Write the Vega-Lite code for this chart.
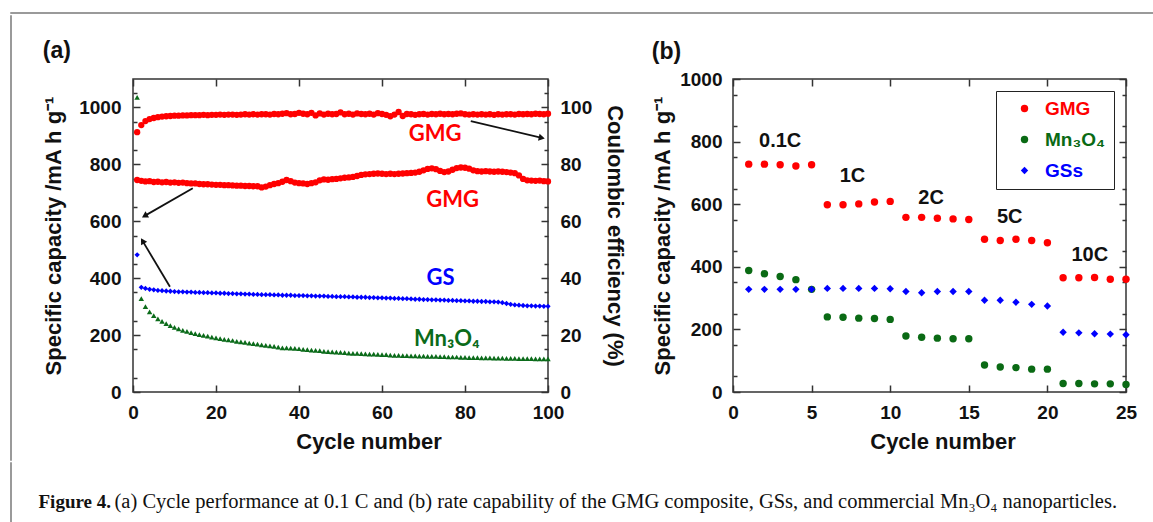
{
  "$schema": "https://vega.github.io/schema/vega-lite/v6.json",
  "padding": {"left": 9, "top": 11, "right": 0, "bottom": 0},
  "background": "white",
  "config": {
    "view": {"stroke": null},
    "font": "Liberation Sans",
    "axis": {"grid": false, "domain": false, "labelFont": "Liberation Sans", "labelFontWeight": "bold", "labelFontSize": 19, "labelColor": "#111", "titleFont": "Liberation Sans", "titleFontWeight": "bold", "titleFontSize": 22, "titleColor": "#111", "tickColor": "#333", "tickWidth": 1.5, "format": "d"},
    "concat": {"spacing": 0}
  },
  "datasets": {
    "blank": [],
    "cycA": [
      {"c":1,"ce":91.3,"gmg":745,"gs":482,"mn":1035},
      {"c":2,"ce":93.8,"gmg":742,"gs":368,"mn":328},
      {"c":3,"ce":95.2,"gmg":740,"gs":364,"mn":300},
      {"c":4,"ce":95.9,"gmg":741,"gs":361,"mn":282},
      {"c":5,"ce":96.3,"gmg":738,"gs":359,"mn":268},
      {"c":6,"ce":96.6,"gmg":739,"gs":357,"mn":257},
      {"c":7,"ce":96.8,"gmg":737,"gs":356,"mn":248},
      {"c":8,"ce":96.9,"gmg":738,"gs":355,"mn":240},
      {"c":9,"ce":97.0,"gmg":736,"gs":354,"mn":233},
      {"c":10,"ce":97.1,"gmg":737,"gs":353,"mn":227},
      {"c":11,"ce":97.1,"gmg":735,"gs":352,"mn":222},
      {"c":12,"ce":97.2,"gmg":736,"gs":352,"mn":217},
      {"c":13,"ce":97.2,"gmg":734,"gs":351,"mn":213},
      {"c":14,"ce":97.3,"gmg":733,"gs":351,"mn":209},
      {"c":15,"ce":97.3,"gmg":733,"gs":350,"mn":205},
      {"c":16,"ce":97.3,"gmg":731,"gs":350,"mn":202},
      {"c":17,"ce":97.4,"gmg":730,"gs":349,"mn":199},
      {"c":18,"ce":97.3,"gmg":730,"gs":349,"mn":196},
      {"c":19,"ce":97.4,"gmg":729,"gs":348,"mn":193},
      {"c":20,"ce":97.4,"gmg":728,"gs":348,"mn":190},
      {"c":21,"ce":97.5,"gmg":728,"gs":347,"mn":188},
      {"c":22,"ce":97.4,"gmg":727,"gs":347,"mn":185},
      {"c":23,"ce":97.5,"gmg":727,"gs":346,"mn":183},
      {"c":24,"ce":97.5,"gmg":726,"gs":346,"mn":181},
      {"c":25,"ce":97.4,"gmg":725,"gs":345,"mn":178},
      {"c":26,"ce":97.5,"gmg":725,"gs":345,"mn":176},
      {"c":27,"ce":97.6,"gmg":724,"gs":344,"mn":174},
      {"c":28,"ce":97.5,"gmg":724,"gs":344,"mn":172},
      {"c":29,"ce":97.6,"gmg":723,"gs":343,"mn":170},
      {"c":30,"ce":97.5,"gmg":723,"gs":343,"mn":168},
      {"c":31,"ce":97.6,"gmg":719,"gs":342,"mn":166},
      {"c":32,"ce":97.6,"gmg":722,"gs":342,"mn":164},
      {"c":33,"ce":97.5,"gmg":727,"gs":342,"mn":162},
      {"c":34,"ce":97.7,"gmg":731,"gs":341,"mn":160},
      {"c":35,"ce":97.6,"gmg":734,"gs":341,"mn":158},
      {"c":36,"ce":97.8,"gmg":739,"gs":340,"mn":155},
      {"c":37,"ce":98.0,"gmg":745,"gs":340,"mn":155},
      {"c":38,"ce":97.6,"gmg":741,"gs":340,"mn":154},
      {"c":39,"ce":97.7,"gmg":736,"gs":339,"mn":153},
      {"c":40,"ce":98.1,"gmg":734,"gs":339,"mn":152},
      {"c":41,"ce":97.8,"gmg":733,"gs":339,"mn":150},
      {"c":42,"ce":97.6,"gmg":731,"gs":338,"mn":149},
      {"c":43,"ce":98.1,"gmg":734,"gs":338,"mn":147},
      {"c":44,"ce":97.2,"gmg":737,"gs":337,"mn":146},
      {"c":45,"ce":97.9,"gmg":744,"gs":337,"mn":145},
      {"c":46,"ce":97.5,"gmg":747,"gs":337,"mn":143},
      {"c":47,"ce":97.8,"gmg":746,"gs":336,"mn":142},
      {"c":48,"ce":97.6,"gmg":748,"gs":336,"mn":141},
      {"c":49,"ce":97.7,"gmg":749,"gs":335,"mn":140},
      {"c":50,"ce":98.3,"gmg":751,"gs":335,"mn":139},
      {"c":51,"ce":97.6,"gmg":753,"gs":335,"mn":138},
      {"c":52,"ce":97.8,"gmg":754,"gs":334,"mn":137},
      {"c":53,"ce":97.5,"gmg":756,"gs":334,"mn":136},
      {"c":54,"ce":97.9,"gmg":759,"gs":333,"mn":136},
      {"c":55,"ce":97.7,"gmg":763,"gs":333,"mn":135},
      {"c":56,"ce":97.6,"gmg":765,"gs":333,"mn":134},
      {"c":57,"ce":97.8,"gmg":766,"gs":332,"mn":133},
      {"c":58,"ce":97.5,"gmg":767,"gs":332,"mn":133},
      {"c":59,"ce":98.0,"gmg":768,"gs":331,"mn":132},
      {"c":60,"ce":97.7,"gmg":767,"gs":331,"mn":131},
      {"c":61,"ce":97.4,"gmg":766,"gs":330,"mn":131},
      {"c":62,"ce":96.9,"gmg":767,"gs":330,"mn":130},
      {"c":63,"ce":97.5,"gmg":766,"gs":329,"mn":129},
      {"c":64,"ce":98.4,"gmg":767,"gs":329,"mn":129},
      {"c":65,"ce":97.0,"gmg":768,"gs":328,"mn":128},
      {"c":66,"ce":97.7,"gmg":769,"gs":328,"mn":128},
      {"c":67,"ce":97.6,"gmg":770,"gs":327,"mn":127},
      {"c":68,"ce":97.4,"gmg":771,"gs":326,"mn":127},
      {"c":69,"ce":97.6,"gmg":774,"gs":326,"mn":126},
      {"c":70,"ce":97.7,"gmg":779,"gs":325,"mn":126},
      {"c":71,"ce":97.5,"gmg":784,"gs":325,"mn":125},
      {"c":72,"ce":97.7,"gmg":786,"gs":324,"mn":125},
      {"c":73,"ce":97.6,"gmg":783,"gs":324,"mn":125},
      {"c":74,"ce":97.8,"gmg":777,"gs":323,"mn":124},
      {"c":75,"ce":97.6,"gmg":773,"gs":323,"mn":124},
      {"c":76,"ce":97.7,"gmg":775,"gs":322,"mn":123},
      {"c":77,"ce":97.6,"gmg":781,"gs":322,"mn":123},
      {"c":78,"ce":97.8,"gmg":787,"gs":321,"mn":123},
      {"c":79,"ce":97.9,"gmg":789,"gs":321,"mn":122},
      {"c":80,"ce":97.6,"gmg":788,"gs":320,"mn":122},
      {"c":81,"ce":97.5,"gmg":785,"gs":320,"mn":121},
      {"c":82,"ce":97.6,"gmg":779,"gs":319,"mn":121},
      {"c":83,"ce":97.5,"gmg":776,"gs":319,"mn":121},
      {"c":84,"ce":97.6,"gmg":775,"gs":318,"mn":120},
      {"c":85,"ce":97.5,"gmg":776,"gs":318,"mn":120},
      {"c":86,"ce":97.6,"gmg":775,"gs":317,"mn":120},
      {"c":87,"ce":97.4,"gmg":774,"gs":317,"mn":119},
      {"c":88,"ce":97.6,"gmg":775,"gs":316,"mn":119},
      {"c":89,"ce":97.5,"gmg":774,"gs":314,"mn":119},
      {"c":90,"ce":97.6,"gmg":773,"gs":311,"mn":118},
      {"c":91,"ce":97.6,"gmg":771,"gs":308,"mn":118},
      {"c":92,"ce":97.5,"gmg":769,"gs":306,"mn":118},
      {"c":93,"ce":97.7,"gmg":761,"gs":305,"mn":117},
      {"c":94,"ce":97.6,"gmg":749,"gs":304,"mn":117},
      {"c":95,"ce":97.7,"gmg":744,"gs":303,"mn":117},
      {"c":96,"ce":97.6,"gmg":743,"gs":303,"mn":117},
      {"c":97,"ce":97.8,"gmg":742,"gs":302,"mn":116},
      {"c":98,"ce":97.7,"gmg":743,"gs":302,"mn":116},
      {"c":99,"ce":97.6,"gmg":741,"gs":301,"mn":116},
      {"c":100,"ce":97.8,"gmg":740,"gs":301,"mn":116}
    ],
    "arrowsA": [
      {"id":1,"x":81.4,"y":952,"x2":98.5,"y2":893},
      {"id":2,"x":14.4,"y":716,"x2":2.8,"y2":619},
      {"id":3,"x":8.9,"y":370,"x2":2.3,"y2":531}
    ],
    "annA": [
      {"x":72.8,"y":908,"label":"GMG","s":"GMG"},
      {"x":77.0,"y":675,"label":"GMG","s":"GMG"},
      {"x":74.1,"y":400,"label":"GS","s":"GS"},
      {"x":75.6,"y":186,"label":"Mn₃O₄","s":"Mn"}
    ],
    "rateB": [
      {"c":1,"series":"GMG","v":728},{"c":2,"series":"GMG","v":728},{"c":3,"series":"GMG","v":726},{"c":4,"series":"GMG","v":722},{"c":5,"series":"GMG","v":726},
      {"c":6,"series":"GMG","v":598},{"c":7,"series":"GMG","v":598},{"c":8,"series":"GMG","v":601},{"c":9,"series":"GMG","v":607},{"c":10,"series":"GMG","v":609},
      {"c":11,"series":"GMG","v":558},{"c":12,"series":"GMG","v":558},{"c":13,"series":"GMG","v":555},{"c":14,"series":"GMG","v":553},{"c":15,"series":"GMG","v":551},
      {"c":16,"series":"GMG","v":488},{"c":17,"series":"GMG","v":484},{"c":18,"series":"GMG","v":488},{"c":19,"series":"GMG","v":484},{"c":20,"series":"GMG","v":477},
      {"c":21,"series":"GMG","v":365},{"c":22,"series":"GMG","v":365},{"c":23,"series":"GMG","v":366},{"c":24,"series":"GMG","v":360},{"c":25,"series":"GMG","v":360},
      {"c":1,"series":"Mn₃O₄","v":388},{"c":2,"series":"Mn₃O₄","v":378},{"c":3,"series":"Mn₃O₄","v":369},{"c":4,"series":"Mn₃O₄","v":359},{"c":5,"series":"Mn₃O₄","v":328},
      {"c":6,"series":"Mn₃O₄","v":240},{"c":7,"series":"Mn₃O₄","v":239},{"c":8,"series":"Mn₃O₄","v":236},{"c":9,"series":"Mn₃O₄","v":235},{"c":10,"series":"Mn₃O₄","v":232},
      {"c":11,"series":"Mn₃O₄","v":179},{"c":12,"series":"Mn₃O₄","v":175},{"c":13,"series":"Mn₃O₄","v":172},{"c":14,"series":"Mn₃O₄","v":170},{"c":15,"series":"Mn₃O₄","v":170},
      {"c":16,"series":"Mn₃O₄","v":86},{"c":17,"series":"Mn₃O₄","v":80},{"c":18,"series":"Mn₃O₄","v":78},{"c":19,"series":"Mn₃O₄","v":73},{"c":20,"series":"Mn₃O₄","v":73},
      {"c":21,"series":"Mn₃O₄","v":27},{"c":22,"series":"Mn₃O₄","v":27},{"c":23,"series":"Mn₃O₄","v":26},{"c":24,"series":"Mn₃O₄","v":26},{"c":25,"series":"Mn₃O₄","v":24},
      {"c":1,"series":"GSs","v":328},{"c":2,"series":"GSs","v":328},{"c":3,"series":"GSs","v":328},{"c":4,"series":"GSs","v":328},{"c":5,"series":"GSs","v":328},
      {"c":6,"series":"GSs","v":331},{"c":7,"series":"GSs","v":331},{"c":8,"series":"GSs","v":331},{"c":9,"series":"GSs","v":331},{"c":10,"series":"GSs","v":330},
      {"c":11,"series":"GSs","v":321},{"c":12,"series":"GSs","v":317},{"c":13,"series":"GSs","v":321},{"c":14,"series":"GSs","v":321},{"c":15,"series":"GSs","v":321},
      {"c":16,"series":"GSs","v":293},{"c":17,"series":"GSs","v":293},{"c":18,"series":"GSs","v":287},{"c":19,"series":"GSs","v":280},{"c":20,"series":"GSs","v":275},
      {"c":21,"series":"GSs","v":191},{"c":22,"series":"GSs","v":189},{"c":23,"series":"GSs","v":186},{"c":24,"series":"GSs","v":185},{"c":25,"series":"GSs","v":183}
    ],
    "annB": [
      {"x":3.0,"y":802,"label":"0.1C"},
      {"x":7.6,"y":690,"label":"1C"},
      {"x":12.6,"y":621,"label":"2C"},
      {"x":17.6,"y":558,"label":"5C"},
      {"x":22.7,"y":439,"label":"10C"}
    ],
    "capBold": [{"t": "Figure 4."}],
    "capNorm": [{"t": "(a) Cycle performance at 0.1 C and (b) rate capability of the GMG composite, GSs, and commercial Mn₃O₄ nanoparticles."}]
  },
  "spacing": 0,
  "vconcat": [
    {"width": 1144, "height": 1, "view": {"stroke": "#9a9a9a", "strokeWidth": 1}, "data": {"name": "blank"}, "mark": {"type": "text"}, "encoding": {"text": {"field": "t"}}},
    {
      "spacing": 29,
      "hconcat": [
        {"width": 1, "height": 445, "view": {"stroke": "#9a9a9a", "strokeWidth": 1}, "data": {"name": "blank"}, "mark": {"type": "text"}, "encoding": {"text": {"field": "t"}}},
        {
          "spacing": 23,
          "vconcat": [
            {"width": 1, "height": 1, "data": {"name": "blank"}, "mark": {"type": "text"}, "encoding": {"text": {"field": "t"}}},
            {
              "spacing": 23,
              "resolve": {"legend": {"color": "independent", "shape": "independent"}},
              "hconcat": [
                {
                  "width": 415, "height": 313,
                  "view": {"stroke": "#333", "strokeWidth": 1.5},
                  "title": {"text": "(a)", "anchor": "start", "frame": "bounds", "font": "Liberation Sans", "fontSize": 23, "fontWeight": "bold", "color": "#111", "baseline": "alphabetic", "offset": -3},
                  "resolve": {"scale": {"y": "independent"}, "axis": {"x": "independent", "y": "independent"}},
                  "layer": [
                    {
                      "data": {"name": "cycA"},
                      "mark": {"type": "point", "filled": true, "shape": "circle", "size": 40, "color": "#ff0000", "opacity": 1},
                      "encoding": {
                        "x": {"field": "c", "type": "quantitative", "scale": {"domain": [0, 100], "nice": false, "zero": false}, "axis": {"orient": "bottom", "values": [0, 20, 40, 60, 80, 100], "ticks": false, "labelPadding": 11, "labelFlush": false, "title": "Cycle number", "titlePadding": 9, "titleX": 235.5}},
                        "y": {"field": "ce", "type": "quantitative", "scale": {"domain": [0, 110], "nice": false}, "axis": {"orient": "right", "values": [0, 20, 40, 60, 80, 100], "ticks": false, "labelPadding": 12, "labelFlush": false, "title": "Coulombic efficiency (%)", "titlePadding": 11}}
                      }
                    },
                    {
                      "data": {"name": "cycA"},
                      "mark": {"type": "point", "filled": true, "shape": "circle", "size": 40, "color": "#ff0000", "opacity": 1},
                      "encoding": {
                        "x": {"field": "c", "type": "quantitative", "scale": {"domain": [0, 100], "nice": false, "zero": false}, "axis": {"orient": "bottom", "values": [0, 20, 40, 60, 80, 100], "labels": false, "ticks": true, "tickSize": -7, "title": null}},
                        "y": {"field": "gmg", "type": "quantitative", "scale": {"domain": [0, 1100], "nice": false}, "axis": {"orient": "left", "values": [0, 200, 400, 600, 800, 1000], "ticks": false, "labelPadding": 12, "labelFlush": false, "title": "Specific capacity /mA h g⁻¹", "titlePadding": 13}}
                      }
                    },
                    {
                      "data": {"name": "cycA"},
                      "mark": {"type": "point", "filled": true, "shape": "diamond", "size": 28, "color": "#0000ff", "opacity": 1},
                      "encoding": {
                        "x": {"field": "c", "type": "quantitative", "scale": {"domain": [0, 100], "nice": false, "zero": false}, "axis": {"orient": "top", "values": [0, 20, 40, 60, 80, 100], "labels": false, "ticks": true, "tickSize": -7, "title": null}},
                        "y": {"field": "gs", "type": "quantitative", "scale": {"domain": [0, 1100], "nice": false}, "axis": {"orient": "left", "values": [0, 200, 400, 600, 800, 1000], "labels": false, "ticks": true, "tickSize": -7, "title": null}}
                      }
                    },
                    {
                      "data": {"name": "cycA"},
                      "mark": {"type": "point", "filled": true, "shape": "triangle-up", "size": 30, "color": "#0b6b1a", "opacity": 1},
                      "encoding": {
                        "x": {"field": "c", "type": "quantitative", "scale": {"domain": [0, 100], "nice": false, "zero": false}, "axis": null},
                        "y": {"field": "mn", "type": "quantitative", "scale": {"domain": [0, 1100], "nice": false}, "axis": {"orient": "left", "values": [50, 150, 250, 350, 450, 550, 650, 750, 850, 950, 1050], "labels": false, "ticks": true, "tickSize": -4, "title": null}}
                      }
                    },
                    {
                      "data": {"name": "arrowsA"},
                      "mark": {"type": "rule", "color": "#111", "strokeWidth": 1.8},
                      "encoding": {
                        "x": {"field": "x", "type": "quantitative", "scale": {"domain": [0, 100], "nice": false, "zero": false}, "axis": null},
                        "x2": {"field": "x2"},
                        "y": {"field": "y", "type": "quantitative", "scale": {"domain": [0, 1100], "nice": false}, "axis": {"orient": "right", "values": [0, 200, 400, 600, 800, 1000], "labels": false, "ticks": true, "tickSize": -7, "title": null}},
                        "y2": {"field": "y2"}
                      }
                    },
                    {
                      "data": {"name": "arrowsA"},
                      "transform": [{"filter": "datum.id == 1"}],
                      "mark": {"type": "point", "filled": true, "shape": "triangle-up", "size": 50, "color": "#111", "opacity": 1, "angle": 103},
                      "encoding": {
                        "x": {"field": "x2", "type": "quantitative", "scale": {"domain": [0, 100], "nice": false, "zero": false}, "axis": null},
                        "y": {"field": "y2", "type": "quantitative", "scale": {"domain": [0, 1100], "nice": false}, "axis": {"orient": "right", "values": [50, 150, 250, 350, 450, 550, 650, 750, 850, 950, 1050], "labels": false, "ticks": true, "tickSize": -4, "title": null}}
                      }
                    },
                    {
                      "data": {"name": "arrowsA"},
                      "transform": [{"filter": "datum.id == 2"}],
                      "mark": {"type": "point", "filled": true, "shape": "triangle-up", "size": 50, "color": "#111", "opacity": 1, "angle": 240},
                      "encoding": {
                        "x": {"field": "x2", "type": "quantitative", "scale": {"domain": [0, 100], "nice": false, "zero": false}, "axis": null},
                        "y": {"field": "y2", "type": "quantitative", "scale": {"domain": [0, 1100], "nice": false}, "axis": null}
                      }
                    },
                    {
                      "data": {"name": "arrowsA"},
                      "transform": [{"filter": "datum.id == 3"}],
                      "mark": {"type": "point", "filled": true, "shape": "triangle-up", "size": 50, "color": "#111", "opacity": 1, "angle": 329},
                      "encoding": {
                        "x": {"field": "x2", "type": "quantitative", "scale": {"domain": [0, 100], "nice": false, "zero": false}, "axis": null},
                        "y": {"field": "y2", "type": "quantitative", "scale": {"domain": [0, 1100], "nice": false}, "axis": null}
                      }
                    },
                    {
                      "data": {"name": "annA"},
                      "transform": [{"filter": "datum.s == 'GMG'"}],
                      "mark": {"type": "text", "font": "Lato", "fontWeight": "bold", "fontSize": 22, "color": "#ff0000", "align": "center", "baseline": "middle"},
                      "encoding": {
                        "x": {"field": "x", "type": "quantitative", "scale": {"domain": [0, 100], "nice": false, "zero": false}, "axis": null},
                        "y": {"field": "y", "type": "quantitative", "scale": {"domain": [0, 1100], "nice": false}, "axis": null},
                        "text": {"field": "label"}
                      }
                    },
                    {
                      "data": {"name": "annA"},
                      "transform": [{"filter": "datum.s == 'GS'"}],
                      "mark": {"type": "text", "font": "Lato", "fontWeight": "bold", "fontSize": 22, "color": "#0000ff", "align": "center", "baseline": "middle"},
                      "encoding": {
                        "x": {"field": "x", "type": "quantitative", "scale": {"domain": [0, 100], "nice": false, "zero": false}, "axis": null},
                        "y": {"field": "y", "type": "quantitative", "scale": {"domain": [0, 1100], "nice": false}, "axis": null},
                        "text": {"field": "label"}
                      }
                    },
                    {
                      "data": {"name": "annA"},
                      "transform": [{"filter": "datum.s == 'Mn'"}],
                      "mark": {"type": "text", "font": "Lato", "fontWeight": "bold", "fontSize": 22, "color": "#0b6b1a", "align": "center", "baseline": "middle"},
                      "encoding": {
                        "x": {"field": "x", "type": "quantitative", "scale": {"domain": [0, 100], "nice": false, "zero": false}, "axis": null},
                        "y": {"field": "y", "type": "quantitative", "scale": {"domain": [0, 1100], "nice": false}, "axis": null},
                        "text": {"field": "label"}
                      }
                    }
                  ]
                },
                {
                  "width": 393, "height": 313,
                  "view": {"stroke": "#333", "strokeWidth": 1.5},
                  "title": {"text": "(b)", "anchor": "start", "frame": "bounds", "font": "Liberation Sans", "fontSize": 23, "fontWeight": "bold", "color": "#111", "baseline": "alphabetic", "offset": -12},
                  "resolve": {"axis": {"x": "independent", "y": "independent"}},
                  "layer": [
                    {
                      "data": {"name": "rateB"},
                      "mark": {"type": "point", "filled": true, "opacity": 1, "size": 55},
                      "encoding": {
                        "x": {"field": "c", "type": "quantitative", "scale": {"domain": [0, 25], "nice": false, "zero": false}, "axis": {"orient": "bottom", "values": [0, 5, 10, 15, 20, 25], "ticks": false, "labelPadding": 11, "labelFlush": false, "title": "Cycle number", "titlePadding": 9, "titleX": 209.5}},
                        "y": {"field": "v", "type": "quantitative", "scale": {"domain": [0, 1000], "nice": false}, "axis": {"orient": "left", "values": [0, 200, 400, 600, 800, 1000], "ticks": false, "labelPadding": 11, "labelFlush": false, "title": "Specific capacity /mA h g⁻¹", "titlePadding": 5}},
                        "color": {"field": "series", "type": "nominal", "scale": {"domain": ["GMG", "Mn₃O₄", "GSs"], "range": ["#ff0000", "#0a6a14", "#0000ff"]},
                          "legend": {"title": null, "orient": "top-right", "offset": 12, "padding": 8, "strokeColor": "#222", "labelFont": "Liberation Sans", "labelFontWeight": "bold", "labelFontSize": 19, "labelOffset": 11, "symbolOffset": 11, "symbolSize": 55, "symbolStrokeWidth": 0, "rowPadding": 11, "labelLimit": 300,
                            "labelColor": {"expr": "datum.value == 'GMG' ? '#ff0000' : (datum.value == 'GSs' ? '#0000ff' : '#0a6a14')"},
                            "encode": {"legend": {"update": {"strokeWidth": {"value": 1.5}}}}}},
                        "shape": {"field": "series", "type": "nominal", "scale": {"domain": ["GMG", "Mn₃O₄", "GSs"], "range": ["circle", "circle", "diamond"]}}
                      }
                    },
                    {
                      "data": {"name": "annB"},
                      "mark": {"type": "text", "font": "Liberation Sans", "fontWeight": "bold", "fontSize": 20, "color": "#111", "align": "center", "baseline": "middle"},
                      "encoding": {
                        "x": {"field": "x", "type": "quantitative", "scale": {"domain": [0, 25], "nice": false, "zero": false}, "axis": {"orient": "bottom", "values": [0, 5, 10, 15, 20, 25], "labels": false, "ticks": true, "tickSize": -7, "title": null}},
                        "y": {"field": "y", "type": "quantitative", "scale": {"domain": [0, 1000], "nice": false}, "axis": {"orient": "left", "values": [0, 200, 400, 600, 800, 1000], "labels": false, "ticks": true, "tickSize": -7, "title": null}},
                        "text": {"field": "label"}
                      }
                    },
                    {
                      "data": {"name": "annB"},
                      "mark": {"type": "text", "text": ""},
                      "encoding": {
                        "x": {"field": "x", "type": "quantitative", "scale": {"domain": [0, 25], "nice": false, "zero": false}, "axis": {"orient": "top", "values": [0, 5, 10, 15, 20, 25], "labels": false, "ticks": true, "tickSize": -7, "title": null}},
                        "y": {"field": "y", "type": "quantitative", "scale": {"domain": [0, 1000], "nice": false}, "axis": {"orient": "left", "values": [50, 150, 250, 350, 450, 550, 650, 750, 850, 950], "labels": false, "ticks": true, "tickSize": -4, "title": null}}
                      }
                    },
                    {
                      "data": {"name": "annB"},
                      "mark": {"type": "text", "text": ""},
                      "encoding": {
                        "x": {"field": "x", "type": "quantitative", "scale": {"domain": [0, 25], "nice": false, "zero": false}, "axis": null},
                        "y": {"field": "y", "type": "quantitative", "scale": {"domain": [0, 1000], "nice": false}, "axis": {"orient": "right", "values": [0, 200, 400, 600, 800, 1000], "labels": false, "ticks": true, "tickSize": -7, "title": null}}
                      }
                    },
                    {
                      "data": {"name": "annB"},
                      "mark": {"type": "text", "text": ""},
                      "encoding": {
                        "x": {"field": "x", "type": "quantitative", "scale": {"domain": [0, 25], "nice": false, "zero": false}, "axis": null},
                        "y": {"field": "y", "type": "quantitative", "scale": {"domain": [0, 1000], "nice": false}, "axis": {"orient": "right", "values": [50, 150, 250, 350, 450, 550, 650, 750, 850, 950], "labels": false, "ticks": true, "tickSize": -4, "title": null}}
                      }
                    }
                  ]
                }
              ]
            }
          ]
        }
      ]
    },
    {
      "spacing": 26,
      "hconcat": [
        {"width": 1, "height": 92, "view": {"stroke": "#9a9a9a", "strokeWidth": 1}, "data": {"name": "blank"}, "mark": {"type": "text"}, "encoding": {"text": {"field": "t"}}},
        {
          "spacing": 3,
          "hconcat": [
            {"width": 1, "height": 92, "data": {"name": "capBold"}, "mark": {"type": "text", "align": "left", "baseline": "alphabetic", "font": "Liberation Serif", "fontSize": 19, "fontWeight": "bold", "color": "#111"}, "encoding": {"text": {"field": "t"}}},
            {"width": 1, "height": 92, "data": {"name": "capNorm"}, "mark": {"type": "text", "align": "left", "baseline": "alphabetic", "font": "Liberation Serif", "fontSize": 20.5, "color": "#111"}, "encoding": {"text": {"field": "t"}}}
          ]
        }
      ]
    }
  ]
}
